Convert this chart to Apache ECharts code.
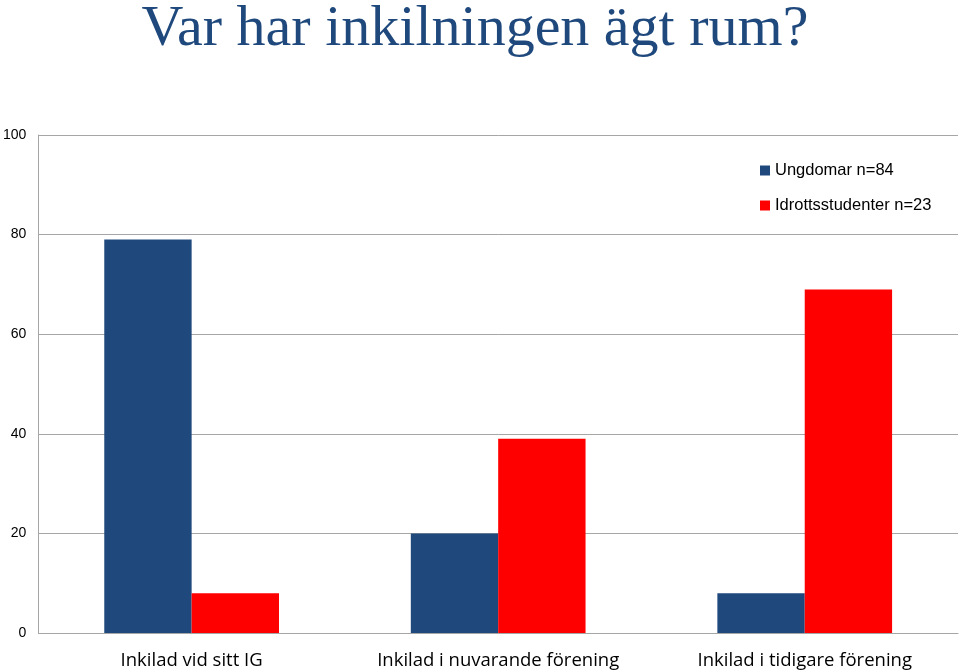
<!DOCTYPE html>
<html>
<head>
<meta charset="utf-8">
<script src="https://cdn.jsdelivr.net/npm/echarts@6/dist/echarts.min.js"></script>
<style>html,body{margin:0;padding:0;background:#fff;}#c{width:960px;height:672px;}</style>
</head>
<body>
<div id="c"></div>
<script>
var categories = ['Inkilad vid sitt IG', 'Inkilad i nuvarande förening', 'Inkilad i tidigare förening'];
var seriesNames = ['Ungdomar n=84', 'Idrottsstudenter n=23'];
var ungdomar = [79, 20, 8];
var idrottsstudenter = [8, 39, 69];

var chart = echarts.init(document.getElementById('c'));
chart.setOption({
  animation: false,
  title: {
    text: 'Var har inkilningen ägt rum?',
    left: 470, textAlign: 'center', top: -4,
    textStyle: { fontFamily: '"Liberation Serif", "Times New Roman", serif', fontSize: 58, fontWeight: 'normal', color: '#1F497D' }
  },
  legend: {
    orient: 'vertical', left: 755, top: 157, itemWidth: 10, itemHeight: 10, itemGap: 18,
    icon: 'rect',
    textStyle: { fontFamily: '"Liberation Sans", Arial, sans-serif', fontSize: 16.5, color: '#000' },
    data: seriesNames
  },
  grid: { left: 37, right: 2, top: 135, bottom: 39 },
  xAxis: {
    type: 'category', data: categories,
    axisLine: { lineStyle: { color: '#A6A6A6' } },
    axisTick: { show: false },
    axisLabel: { interval: 0, hideOverlap: false, fontFamily: '"Open Sans", "Liberation Sans", sans-serif', fontSize: 18.5, color: '#000', margin: 18 }
  },
  yAxis: {
    type: 'value', min: 0, max: 100, interval: 20,
    axisLine: { show: true, lineStyle: { color: '#A6A6A6' } },
    axisTick: { show: false },
    splitLine: { lineStyle: { color: '#A6A6A6' } },
    axisLabel: { fontFamily: '"Liberation Sans", Arial, sans-serif', fontSize: 14, color: '#000', margin: 12 }
  },
  series: [
    { name: seriesNames[0], type: 'bar', data: ungdomar, barGap: '0%', barCategoryGap: '43%', itemStyle: { color: '#1F497D' } },
    { name: seriesNames[1], type: 'bar', data: idrottsstudenter, barGap: '0%', barCategoryGap: '43%', itemStyle: { color: '#FF0000' } }
  ]
});
</script>
</body>
</html>
